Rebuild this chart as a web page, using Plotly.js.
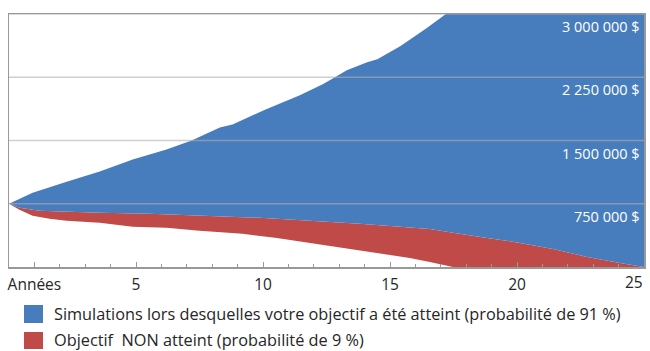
<!DOCTYPE html>
<html>
<head>
<meta charset="utf-8">
<script src="https://cdn.plot.ly/plotly-3.0.1.min.js"></script>
<style>html,body{margin:0;padding:0;background:#fff;}#chart{width:650px;height:351px;}</style>
</head>
<body>
<div id="chart"></div>
<script>
// Upper edge of successful simulations (blue)
const blueYears = [0, 0.93, 2.27, 3.57, 4.87, 6.2, 7.19, 8.3, 8.8, 10.1, 11.45, 12.35, 12.9, 13.3, 14.1, 14.5, 15.4, 16.45, 17.2, 18, 20, 22, 25];
const blueTop   = [750000, 881000, 1012000, 1131000, 1274000, 1393000, 1500000, 1655000, 1690000, 1869000, 2036000, 2167000, 2262000, 2333000, 2429000, 2464000, 2619000, 2833000, 3000000, 3180000, 3620000, 4080000, 4800000];
// Upper edge of failed simulations (red top / blue bottom)
const redTopYears = [0, 0.41, 1.2, 2.27, 3.57, 5.54, 8.29, 9.87, 11.84, 13.81, 16.57, 17.48, 18.82, 20.12, 21.42, 22.76, 24.06, 25];
const redTop      = [750000, 702000, 667000, 655000, 643000, 631000, 595000, 583000, 548000, 512000, 452000, 405000, 345000, 286000, 214000, 119000, 48000, 0];
// Lower edge of failed simulations (red bottom)
const redBotYears = [0, 0.41, 0.93, 1.6, 2.27, 3.57, 4.87, 6.2, 7.5, 9.2, 10.55, 11.84, 13.14, 14.48, 15.78, 16.57, 17.48, 25];
const redBottom   = [750000, 679000, 607000, 571000, 548000, 524000, 476000, 464000, 429000, 393000, 345000, 286000, 226000, 167000, 107000, 60000, 0, 0];

const yTickVals = [750000, 1500000, 2250000, 3000000];
const yTickText = ['750 000 $', '1 500 000 $', '2 250 000 $', '3 000 000 $'];
const xTickVals = [1, 5, 10, 15, 20];
const xTickText = ['Années', '5', '10', '15', '20'];
const xLastTick = 25;
const xLastText = '25';
const legendLabels = [
  'Simulations lors desquelles votre objectif a été atteint (probabilité de 91 %)',
  'Objectif  NON atteint (probabilité de 9 %)'
];

const BLUE = '#487dbd';
const RED = '#bf4a48';
const FONT = 'Open Sans, sans-serif';
const PW = 635, PH = 253; // plot area size in px (for paper fractions)

const traces = [
  {x: redBotYears, y: redBottom, type: 'scatter', mode: 'lines', line: {width: 0, color: RED}, showlegend: false, hoverinfo: 'skip'},
  {x: redTopYears, y: redTop, type: 'scatter', mode: 'lines', line: {width: 0, color: RED}, fill: 'tonexty', fillcolor: RED, showlegend: false},
  {x: blueYears, y: blueTop, type: 'scatter', mode: 'lines', line: {width: 0, color: BLUE}, fill: 'tonexty', fillcolor: BLUE, showlegend: false}
];

const shapes = yTickVals.map(v => ({
  type: 'line', xref: 'paper', yref: 'y', x0: 0, x1: 1, y0: v, y1: v,
  line: {color: 'rgba(175,175,175,0.6)', width: 1.5}, layer: 'above'
}));
// legend swatches
shapes.push({type: 'rect', xref: 'paper', yref: 'paper', x0: 15/PW, x1: 34/PW, y0: -(323-267)/PH, y1: -(305-267)/PH, fillcolor: BLUE, line: {width: 0}});
shapes.push({type: 'rect', xref: 'paper', yref: 'paper', x0: 15/PW, x1: 34/PW, y0: -(349-267)/PH, y1: -(332-267)/PH, fillcolor: RED, line: {width: 0}});

const annotations = [
  {xref: 'paper', yref: 'paper', x: 43/PW, y: -(314-267)/PH, xanchor: 'left', yanchor: 'middle', text: legendLabels[0], showarrow: false, font: {family: FONT, size: 16.3, color: '#262626'}},
  {xref: 'paper', yref: 'paper', x: 43/PW, y: -(340-267)/PH, xanchor: 'left', yanchor: 'middle', text: legendLabels[1], showarrow: false, font: {family: FONT, size: 16.3, color: '#262626'}},
  // last x tick label, kept inside the chart like the reference
  {xref: 'x', yref: 'paper', x: xLastTick, y: -(282-267)/PH, xanchor: 'right', yanchor: 'middle', xshift: 1, text: xLastText, showarrow: false, font: {family: FONT, size: 15.5, color: '#262626'}}
];
// y tick labels, drawn just below each gridline on the right, inside the plot
yTickVals.forEach((v, i) => annotations.push({
  xref: 'paper', yref: 'y', x: 1, y: v, xanchor: 'right', yanchor: 'top', xshift: -2, yshift: -1,
  text: yTickText[i], showarrow: false, font: {family: FONT, size: 14.5, color: '#ffffff'}
}));

const layout = {
  width: 650, height: 351,
  margin: {l: 9, r: 6, t: 14, b: 84},
  paper_bgcolor: '#ffffff', plot_bgcolor: '#ffffff',
  showlegend: false,
  xaxis: {
    range: [0, 25], tickmode: 'array', tickvals: xTickVals, ticktext: xTickText,
    ticks: 'inside', ticklen: 5, tickcolor: '#999', tickwidth: 1,
    minor: {dtick: 1, tick0: 0, ticks: 'inside', ticklen: 3, tickcolor: '#999', showgrid: false},
    showgrid: false, zeroline: false, showline: true, linecolor: '#999', linewidth: 1.5, mirror: true,
    ticklabelstandoff: 3,
    tickfont: {family: FONT, size: 15.5, color: '#262626'}, fixedrange: true
  },
  yaxis: {
    range: [0, 3000000], side: 'right', tickmode: 'array', tickvals: yTickVals,
    showticklabels: false, ticks: '', showgrid: false, zeroline: false,
    showline: true, linecolor: '#999', linewidth: 1.5, mirror: true, fixedrange: true
  },
  shapes: shapes,
  annotations: annotations
};

Plotly.newPlot('chart', traces, layout, {displayModeBar: false, staticPlot: true});
</script>
</body>
</html>
